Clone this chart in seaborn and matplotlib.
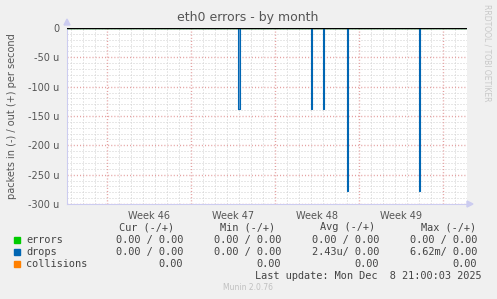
import numpy as np
import pandas as pd
import matplotlib
matplotlib.use("Agg")
import matplotlib.pyplot as plt
import matplotlib.transforms as mtransforms
import seaborn as sns

# ---- data (time in days since left edge of graph, values in micro-packets/s) ----
drops_days = [0.0,
              14.29, 14.29, 14.38, 14.38,
              20.29, 20.29, 20.38, 20.38,
              21.29, 21.29, 21.38, 21.38,
              23.29, 23.29, 23.38, 23.38,
              29.29, 29.29, 29.38, 29.38,
              33.33]
drops_vals = [0,
              0, -138, -138, 0,
              0, -138, -138, 0,
              0, -138, -138, 0,
              0, -278, -278, 0,
              0, -277, -277, 0,
              0]
errors_days = [0.0, 33.33]
errors_vals = [0, 0]
week_labels = ["Week 46", "Week 47", "Week 48", "Week 49"]
week_centers = [6.86, 13.86, 20.86, 27.86]
week_starts = [3.36, 10.36, 17.36, 24.36, 31.36]
yticks = [0, -50, -100, -150, -200, -250, -300]
ytick_labels = ["0", "-50 u", "-100 u", "-150 u", "-200 u", "-250 u", "-300 u"]

legend_names = ["errors", "drops", "collisions"]
legend_colors = ["#00CC00", "#0066B3", "#FF8000"]
cur_vals = ["0.00 / 0.00", "0.00 / 0.00", "0.00"]
min_vals = ["0.00 / 0.00", "0.00 / 0.00", "0.00"]
avg_vals = ["0.00 / 0.00", "2.43u/ 0.00", "0.00"]
max_vals = ["0.00 / 0.00", "6.62m/ 0.00", "0.00"]
headers = ["Cur (-/+)", "Min (-/+)", "Avg (-/+)", "Max (-/+)"]

sns.set_style("white")
plt.rcParams["font.family"] = ["DejaVu Sans"]

W, H = 497, 299
fig = plt.figure(figsize=(W / 100, H / 100), dpi=100, facecolor="#F0F0F0")
L, R, T, B = 67, 467, 28, 204
ax = fig.add_axes([L / W, 1 - B / H, (R - L) / W, (B - T) / H])
ax.set_facecolor("white")

xmax = 33.33
ax.set_xlim(0, xmax)
ax.set_ylim(-300, 0)

days_grid = np.arange(0.36, xmax, 1.0)
ygrid = np.arange(-300, 1, 10)

# grid
RED = "#E4A0A0"
GRAY = "#D0D0D0"
for yv in ygrid:
    if yv % 50 == 0:
        ax.axhline(yv, color=RED, lw=1.0, ls=(0, (0.75, 1.5)), zorder=1.5)
    else:
        ax.axhline(yv, color=GRAY, lw=0.72, ls=(0, (1, 2)), zorder=0.5)
for d in days_grid:
    if any(abs(d - w) < 0.01 for w in week_starts):
        ax.axvline(d, color=RED, lw=1.0, ls=(0, (0.75, 1.5)), zorder=1.5)
    else:
        ax.axvline(d, color=GRAY, lw=0.72, ls=(0, (1, 2)), zorder=0.5)

df_drops = pd.DataFrame({"day": drops_days, "val": drops_vals})
df_err = pd.DataFrame({"day": errors_days, "val": errors_vals})
ax.fill_between(df_drops["day"], df_drops["val"], 0, color="#5B9BD0", lw=0, zorder=2)
sns.lineplot(data=df_err, x="day", y="val", color=legend_colors[0], lw=1, ax=ax, zorder=3)
sns.lineplot(data=df_drops, x="day", y="val", color=legend_colors[1], lw=0.8, ax=ax, zorder=3,
             estimator=None, sort=False)
ax.axhline(0, color="black", lw=1.0, zorder=4)

for s in ["top", "right"]:
    ax.spines[s].set_visible(False)
for s in ["left", "bottom"]:
    ax.spines[s].set_color("#CCCCF0")
    ax.spines[s].set_linewidth(0.8)

ax.set_xticks(week_starts)
ax.set_xticklabels([])
ax.set_xticks([d for d in days_grid if all(abs(d - w) > 0.01 for w in week_starts)], minor=True)
ax.tick_params(axis="x", which="major", length=2.5, width=0.8, color="#E08080", direction="out")
ax.tick_params(axis="x", which="minor", length=2, width=0.8, color="#C8C8C8", direction="out")
trans = mtransforms.blended_transform_factory(ax.transData, ax.transAxes)
for lab, c in zip(week_labels, week_centers):
    ax.text(c, -0.04, lab, transform=trans, ha="center", va="top", fontsize=7, color="#555555")

ax.set_yticks(yticks)
ax.set_yticklabels(ytick_labels)
ax.set_yticks([v for v in ygrid if v % 50 != 0], minor=True)
ax.tick_params(axis="y", which="major", length=2.5, width=0.8, color="#E08080", labelsize=7,
               labelcolor="#555555", pad=3)
ax.tick_params(axis="y", which="minor", length=2, width=0.8, color="#C8C8C8")
ax.set_xlabel("")
ax.set_ylabel("packets in (-) / out (+) per second", fontsize=7, color="#555555", labelpad=8)

# arrows
fig.patches.append(plt.Polygon([[(L - 3) / W, 1 - 25 / H], [(L + 3) / W, 1 - 25 / H], [L / W, 1 - 19 / H]],
                               closed=True, transform=fig.transFigure, color="#CCCCF0"))
fig.patches.append(plt.Polygon([[R / W, 1 - 201 / H], [R / W, 1 - 207 / H], [(R + 6) / W, 1 - 204 / H]],
                               closed=True, transform=fig.transFigure, color="#CCCCF0"))

fig.text(248 / W, 1 - 18 / H, "eth0 errors - by month", ha="center", va="center", fontsize=9, color="#555555")
fig.text(487 / W, 1 - 53 / H, "RRDTOOL / TOBI OETIKER", ha="center", va="center", rotation=270,
         fontsize=5.5, color="#C8C8C8")

mono = dict(family="DejaVu Sans Mono", fontsize=7.4, color="#444444", va="center")
hdr_right = [174, 275, 375, 476]
for h, xr in zip(headers, hdr_right):
    fig.text(xr / W, 1 - 227 / H, h, ha="right", **mono)
rows_y = [240, 252, 264]
col_right = [183, 281, 379, 477]
for i, (name, col) in enumerate(zip(legend_names, legend_colors)):
    y = 1 - rows_y[i] / H
    fig.patches.append(plt.Rectangle((14 / W, y - 3 / H), 6 / W, 6 / H, transform=fig.transFigure,
                                     color=col))
    fig.text(26 / W, y, name, ha="left", **mono)
    for vals, xr in zip([cur_vals, min_vals, avg_vals, max_vals], col_right):
        fig.text(xr / W, y, vals[i], ha="right", **mono)
fig.text(482 / W, 1 - 276 / H, "Last update: Mon Dec  8 21:00:03 2025", ha="right", **mono)
fig.text(248 / W, 1 - 288 / H, "Munin 2.0.76", ha="center", va="center", fontsize=5.5, color="#C0C0C0")

fig.savefig("out.png", dpi=100, facecolor="#F0F0F0")
